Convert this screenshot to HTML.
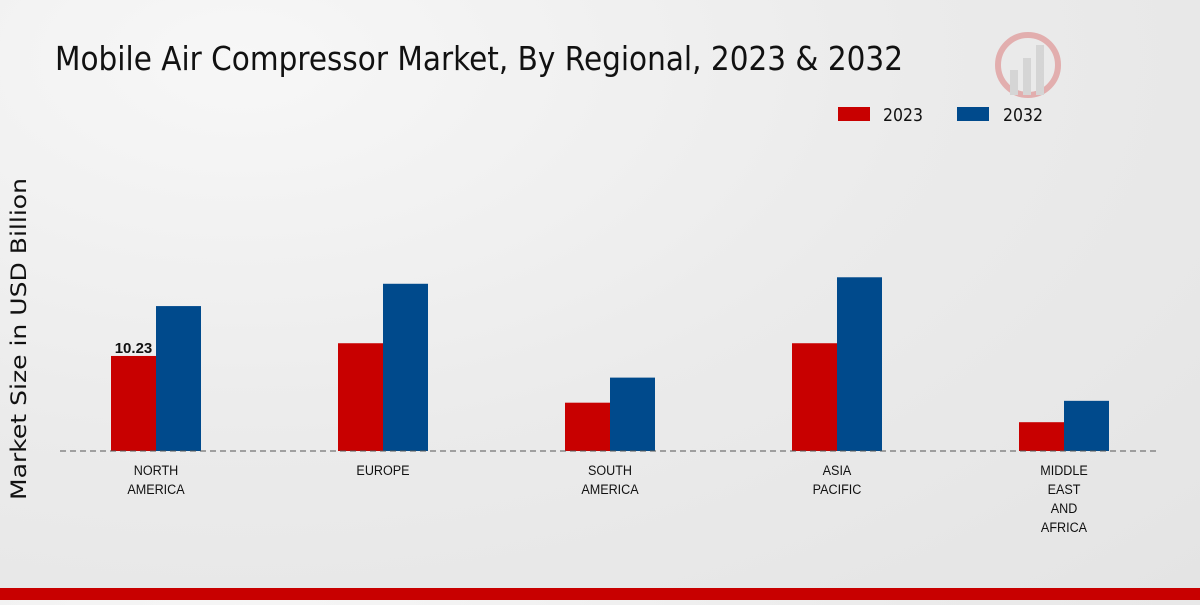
<!DOCTYPE html>
<html><head><meta charset="utf-8"><style>
html,body{margin:0;padding:0;}
body{width:1200px;height:600px;overflow:hidden;background:radial-gradient(ellipse at 20% 10%,#f7f7f7 0%,#ebebeb 50%,#e4e4e4 100%);font-family:"Liberation Sans",sans-serif;}
</style></head><body>
<svg width="1200" height="600" xmlns="http://www.w3.org/2000/svg">
<text x="55" y="70" textLength="848" lengthAdjust="spacingAndGlyphs" font-family="DejaVu Sans, sans-serif" font-size="33" fill="#111">Mobile Air Compressor Market, By Regional, 2023 &amp; 2032</text>
<g opacity="0.25">
<circle cx="1028" cy="65" r="30" fill="none" stroke="#c00" stroke-width="6"/>
<rect x="1010" y="70" width="8" height="25" fill="#999"/><rect x="1023" y="58" width="8" height="37" fill="#999"/><rect x="1036" y="45" width="8" height="50" fill="#999"/>
</g>
<g>
<rect x="838" y="107" width="32" height="14" fill="#c80000"/>
<text x="883" y="121" font-size="18" textLength="40" lengthAdjust="spacingAndGlyphs" font-family="DejaVu Sans, sans-serif" fill="#111">2023</text>
<rect x="957" y="107" width="32" height="14" fill="#004a8c"/>
<text x="1003" y="121" font-size="18" textLength="40" lengthAdjust="spacingAndGlyphs" font-family="DejaVu Sans, sans-serif" fill="#111">2032</text>
</g>
<text transform="translate(26,339) rotate(-90)" text-anchor="middle" font-size="21" textLength="322" lengthAdjust="spacingAndGlyphs" font-family="DejaVu Sans, sans-serif" fill="#111">Market Size in USD Billion</text>
<g id="bars"></g>
<line x1="60" y1="451" x2="1160" y2="451" stroke="#555" stroke-width="1" stroke-dasharray="6,4"/>
<g id="labels"></g>
<rect x="0" y="588" width="1200" height="12" fill="#c80000"/>
</svg>
<script>
const categories=[["NORTH","AMERICA"],["EUROPE"],["SOUTH","AMERICA"],["ASIA","PACIFIC"],["MIDDLE","EAST","AND","AFRICA"]];
const values2023=[10.23,11.6,5.2,11.6,3.1];
const values2032=[15.6,18.0,7.9,18.7,5.4];
const ns="http://www.w3.org/2000/svg";
const baseY=451,scale=9.29,x0=156,step=227,bw=45;
const yPos=v=>baseY-v*scale;
const bars=document.getElementById('bars'),labels=document.getElementById('labels');
categories.forEach((c,i)=>{
 const cx=x0+i*step;
 [[values2023[i],cx-bw,'#c80000','2023'],[values2032[i],cx,'#004a8c','2032']].forEach(([v,x,col,yr])=>{
  const r=document.createElementNS(ns,'rect');
  r.setAttribute('x',x);r.setAttribute('y',yPos(v));r.setAttribute('width',bw);r.setAttribute('height',baseY-yPos(v));r.setAttribute('fill',col);
  
  
  bars.appendChild(r);
 });
 c.forEach((line,j)=>{
  const t=document.createElementNS(ns,'text');
  t.setAttribute('x',cx);t.setAttribute('y',475+j*19);t.setAttribute('text-anchor','middle');
  t.setAttribute('font-size','14');t.setAttribute('font-family','Liberation Sans, sans-serif');t.setAttribute('fill','#111');
  t.setAttribute('transform','translate('+cx+',0) scale(0.9,1) translate('+(-cx)+',0)');
  t.textContent=line;
  
  
  labels.appendChild(t);
 });
});
const vl=document.createElementNS(ns,'text');
vl.setAttribute('x',x0-bw/2);vl.setAttribute('y',yPos(values2023[0])-3);vl.setAttribute('text-anchor','middle');
vl.setAttribute('font-size','15');vl.setAttribute('font-weight','bold');vl.setAttribute('fill','#111');
vl.textContent=values2023[0].toFixed(2);


labels.appendChild(vl);
</script>
</body></html>
